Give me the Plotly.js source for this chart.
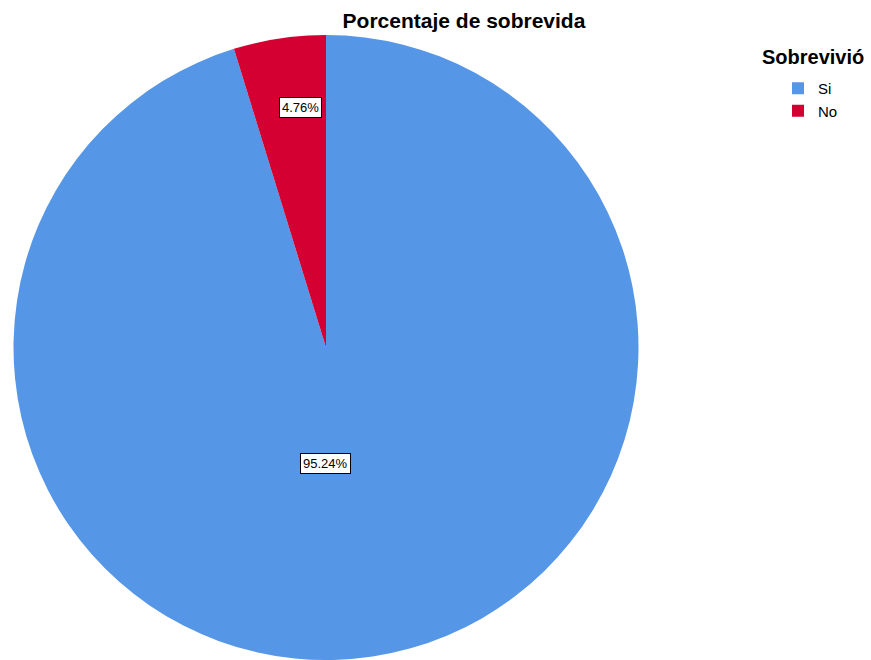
<!DOCTYPE html>
<html>
<head>
<meta charset="utf-8">
<script src="https://cdn.plot.ly/plotly-3.0.1.min.js"></script>
<style>html,body{margin:0;padding:0;background:#fff;}#chart{width:871px;height:660px;}</style>
</head>
<body>
<div id="chart"></div>
<script>
const categories = ["Si", "No"];
const percentages = [95.24, 4.76];
const colors = ["#5596E6", "#D50032"];
const legendTitle = "Sobrevivió";
const chartTitle = "Porcentaje de sobrevida";

const W = 871, H = 660;
const pieCx = 326, pieTop = 35, pieR = 314;
const FONT = "Liberation Sans, Arial, sans-serif";

const labelPos = [[325, 463], [300, 108]];
const annotations = categories.map((c, i) => ({
  x: labelPos[i][0] / W, y: 1 - labelPos[i][1] / H,
  xref: "paper", yref: "paper",
  xanchor: "center", yanchor: "middle",
  text: percentages[i].toFixed(2) + "%",
  showarrow: false,
  font: {family: FONT, size: 13, color: "#000"},
  bgcolor: "#fff", bordercolor: "#000", borderwidth: 1, borderpad: 2
}));
annotations.push({
  x: 760 / W, y: 1 - 57 / H, xref: "paper", yref: "paper",
  xanchor: "left", yanchor: "middle", showarrow: false,
  text: "<b>" + legendTitle + "</b>",
  font: {family: FONT, size: 20, color: "#000"}
});

const data = [{
  type: "pie",
  labels: categories,
  values: percentages,
  marker: {colors: colors, line: {width: 0}},
  sort: false,
  direction: "clockwise",
  rotation: 0,
  textinfo: "none",
  hoverinfo: "label+percent",
  domain: {x: [(pieCx - pieR) / W, (pieCx + pieR) / W], y: [0, 1 - pieTop / H]}
}];

const layout = {
  width: W, height: H,
  margin: {l: 0, r: 0, t: 0, b: 0},
  paper_bgcolor: "#fff",
  font: {family: FONT, color: "#000"},
  title: {
    text: "<b>" + chartTitle + "</b>",
    font: {size: 21, color: "#000"},
    x: 464 / W, xanchor: "center",
    y: 1 - 21 / H, yanchor: "middle"
  },
  showlegend: true,
  legend: {
    x: 778 / W, xanchor: "left",
    y: 1 - 72 / H, yanchor: "top",
    font: {size: 15, color: "#000"},
    itemwidth: 30,
    tracegroupgap: 0
  },
  annotations: annotations
};

Plotly.newPlot("chart", data, layout, {displayModeBar: false, staticPlot: true});
</script>
</body>
</html>
